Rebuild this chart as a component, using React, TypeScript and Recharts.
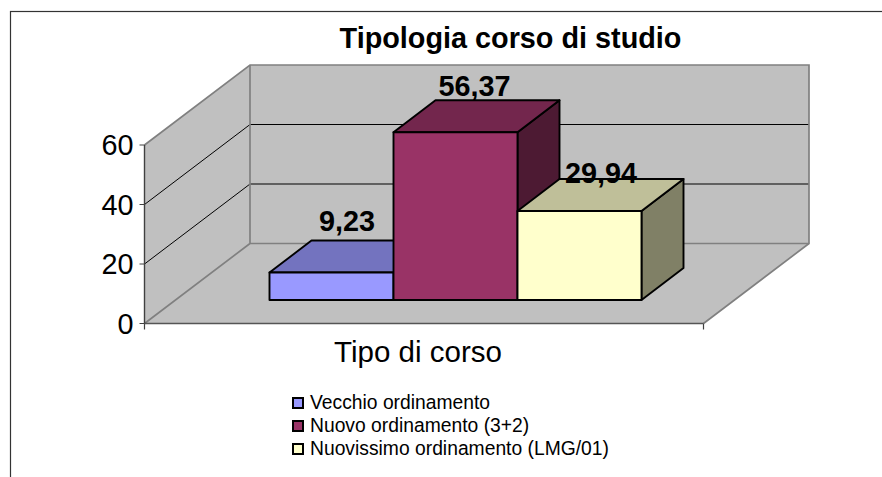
import React from "react";
import { BarChart, Bar, XAxis, YAxis, Legend, LabelList, usePlotArea } from "recharts";

const categories = ["Tipo di corso"];
const seriesNames = ["Vecchio ordinamento", "Nuovo ordinamento (3+2)", "Nuovissimo ordinamento (LMG/01)"];
const seriesValues = [9.23, 56.37, 29.94];
const yTicks = [0, 20, 40, 60];
const chartTitle = "Tipologia corso di studio";

const seriesKeys = ["vecchio", "nuovo", "nuovissimo"];
const rows = categories.map((tipo) => {
  const row: Record<string, string | number> = { tipo };
  seriesKeys.forEach((k, i) => {
    row[k] = seriesValues[i];
  });
  return row;
});

const FONT = '"Liberation Sans", Arial, sans-serif';
const WALL = { dx: 105.5, dy: -80 };
const FLOOR_SHIFT = { dx: 31, dy: -23.5 };
const BAR_DEPTH = { dx: 42, dy: -32 };
const YMAX = 60;

const fronts = ["#9999FF", "#993366", "#FFFFCC"];
const tops = ["#7373BF", "#73264D", "#BFBF99"];
const sides = ["#4D4D80", "#4D1A33", "#808066"];
const labelShifts = [
  { x: 15.6, y: -41.8 },
  { x: 19, y: -36 },
  { x: 21.5, y: -27.7 },
];

function Walls() {
  const p = usePlotArea();
  if (!p) return null;
  const l = p.x;
  const r = p.x + p.width;
  const t = p.y;
  const b = p.y + p.height;
  const { dx, dy } = WALL;
  const edge = "#808080";
  return (
    <g>
      <polygon points={`${l},${t} ${l + dx},${t + dy} ${l + dx},${b + dy} ${l},${b}`} fill="#C0C0C0" />
      <polygon points={`${l},${b} ${l + dx},${b + dy} ${r + dx},${b + dy} ${r},${b}`} fill="#C0C0C0" />
      <rect x={l + dx} y={t + dy} width={r - l} height={b - t} fill="#C0C0C0" />
      {yTicks
        .filter((v) => v > 0 && v < YMAX)
        .map((v) => {
          const y = b - (v / YMAX) * (b - t);
          return (
            <path
              key={v}
              d={`M${l},${y} L${l + dx},${y + dy} L${r + dx},${y + dy}`}
              fill="none"
              stroke="#000"
              strokeWidth={1}
            />
          );
        })}
      <path
        d={`M${l},${t} L${l + dx},${t + dy} L${r + dx},${t + dy} L${r + dx},${b + dy} L${r},${b}`}
        fill="none"
        stroke={edge}
        strokeWidth={1.7}
      />
      <path d={`M${l + dx},${t + dy} L${l + dx},${b + dy} L${r + dx},${b + dy} M${l + dx},${b + dy} L${l},${b}`} fill="none" stroke={edge} strokeWidth={1.7} />
      <path d={`M${l},${b} v6 M${r},${b} v6`} stroke="#404040" strokeWidth={1.2} fill="none" />
    </g>
  );
}

function makeBox(index: number) {
  return function Box(props: any) {
    const { x, y, width, height } = props;
    const fx = x + FLOOR_SHIFT.dx;
    const fy = y + FLOOR_SHIFT.dy;
    const { dx, dy } = BAR_DEPTH;
    const stroke = { stroke: "#000", strokeWidth: 1.9, strokeLinejoin: "round" as const };
    return (
      <g>
        <polygon
          points={`${fx + width},${fy} ${fx + width + dx},${fy + dy} ${fx + width + dx},${fy + height + dy} ${fx + width},${fy + height}`}
          fill={sides[index]}
          {...stroke}
        />
        <polygon
          points={`${fx},${fy} ${fx + dx},${fy + dy} ${fx + width + dx},${fy + dy} ${fx + width},${fy}`}
          fill={tops[index]}
          {...stroke}
        />
        <rect x={fx} y={fy} width={width} height={height} fill={fronts[index]} {...stroke} />
      </g>
    );
  };
}

function makeLabel(index: number) {
  return function ValueLabel(props: any) {
    const { x, y, width, value } = props;
    return (
      <text
        x={x + width / 2 + FLOOR_SHIFT.dx + labelShifts[index].x}
        y={y + FLOOR_SHIFT.dy + labelShifts[index].y}
        textAnchor="middle"
        fontFamily={FONT}
        fontWeight="bold"
        fontSize={28.8}
        fill="#000"
      >
        {Number(value).toFixed(2).replace(".", ",")}
      </text>
    );
  };
}

function LegendBox(props: any) {
  const payload = [...(props.payload || [])].sort(
    (a: any, b: any) => seriesNames.indexOf(a.value) - seriesNames.indexOf(b.value)
  );
  return (
    <div style={{ fontFamily: FONT, fontSize: 19.3, color: "#000", lineHeight: "23px" }}>
      {payload.map((entry: any) => (
        <div key={entry.value} style={{ display: "flex", alignItems: "center", height: 23, whiteSpace: "nowrap" }}>
          <span
            style={{
              display: "inline-block",
              boxSizing: "border-box",
              width: 12,
              height: 12,
              background: entry.color,
              border: "2px solid #000",
              marginRight: 6,
            }}
          />
          {entry.value}
        </div>
      ))}
    </div>
  );
}

export default function App() {
  return (
    <div style={{ position: "absolute", left: 0, top: 0, width: 882, height: 477, overflow: "hidden", background: "#fff" }}>
      <BarChart
        width={882}
        height={477}
        data={rows}
        margin={{ top: 145, left: 84.5, right: 178.5, bottom: 93.5 }}
        barSize={124}
        barGap={0}
        style={{ fontFamily: FONT }}
      >
        <rect x={10.5} y={11.5} width={900} height={500} fill="#fff" stroke="#333" strokeWidth={1.2} />
        <text x={510.5} y={48} textAnchor="middle" fontFamily={FONT} fontWeight="bold" fontSize={28.8} fill="#000">
          {chartTitle}
        </text>
        <Walls />
        <XAxis
          dataKey="tipo"
          height={60}
          axisLine={{ stroke: "#555", strokeWidth: 1.7 }}
          tickLine={false}
          tickMargin={12}
          tick={{ fontSize: 29.5, fill: "#000", fontFamily: FONT, dx: -6 }}
        />
        <YAxis
          width={60}
          domain={[0, YMAX]}
          ticks={yTicks}
          axisLine={{ stroke: "#404040", strokeWidth: 1.4 }}
          tickLine={{ stroke: "#404040" }}
          tickSize={5}
          tickMargin={6}
          tick={{ fontSize: 28.8, fill: "#000", fontFamily: FONT }}
        />
        {seriesKeys.map((k, i) => (
          <Bar key={k} dataKey={k} name={seriesNames[i]} fill={fronts[i]} isAnimationActive={false} shape={makeBox(i)}>
            <LabelList dataKey={k} content={makeLabel(i)} />
          </Bar>
        ))}
        <Legend
          layout="vertical"
          align="center"
          verticalAlign="middle"
          content={LegendBox}
          wrapperStyle={{ left: 292, top: 391, right: "auto", bottom: "auto", width: "auto", height: "auto" }}
        />
      </BarChart>
    </div>
  );
}
